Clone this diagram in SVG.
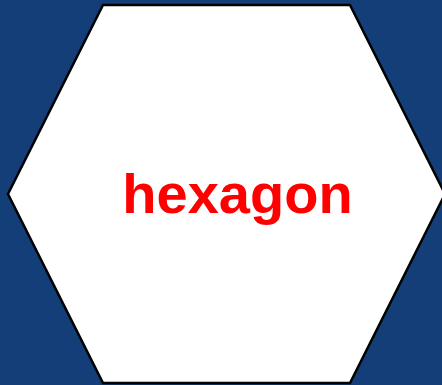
<svg xmlns="http://www.w3.org/2000/svg" width="442" height="385" viewBox="0 0 442 385">
<style>
.hex{fill:#ffffff;stroke:#000000;stroke-width:2.5}
.lbl{font-family:"Liberation Sans",Arial,sans-serif;font-weight:bold;font-size:56px;fill:#ff0000;text-anchor:middle}
</style>
<rect x="0" y="0" width="442" height="385" fill="#133e78"/>
<g id="hexagon">
<polygon class="hex" points="103,5 350,5 445,194 350,383 103,383 8,194"/>
<text class="lbl" x="237.5" y="213">hexagon</text>
</g>
</svg>
